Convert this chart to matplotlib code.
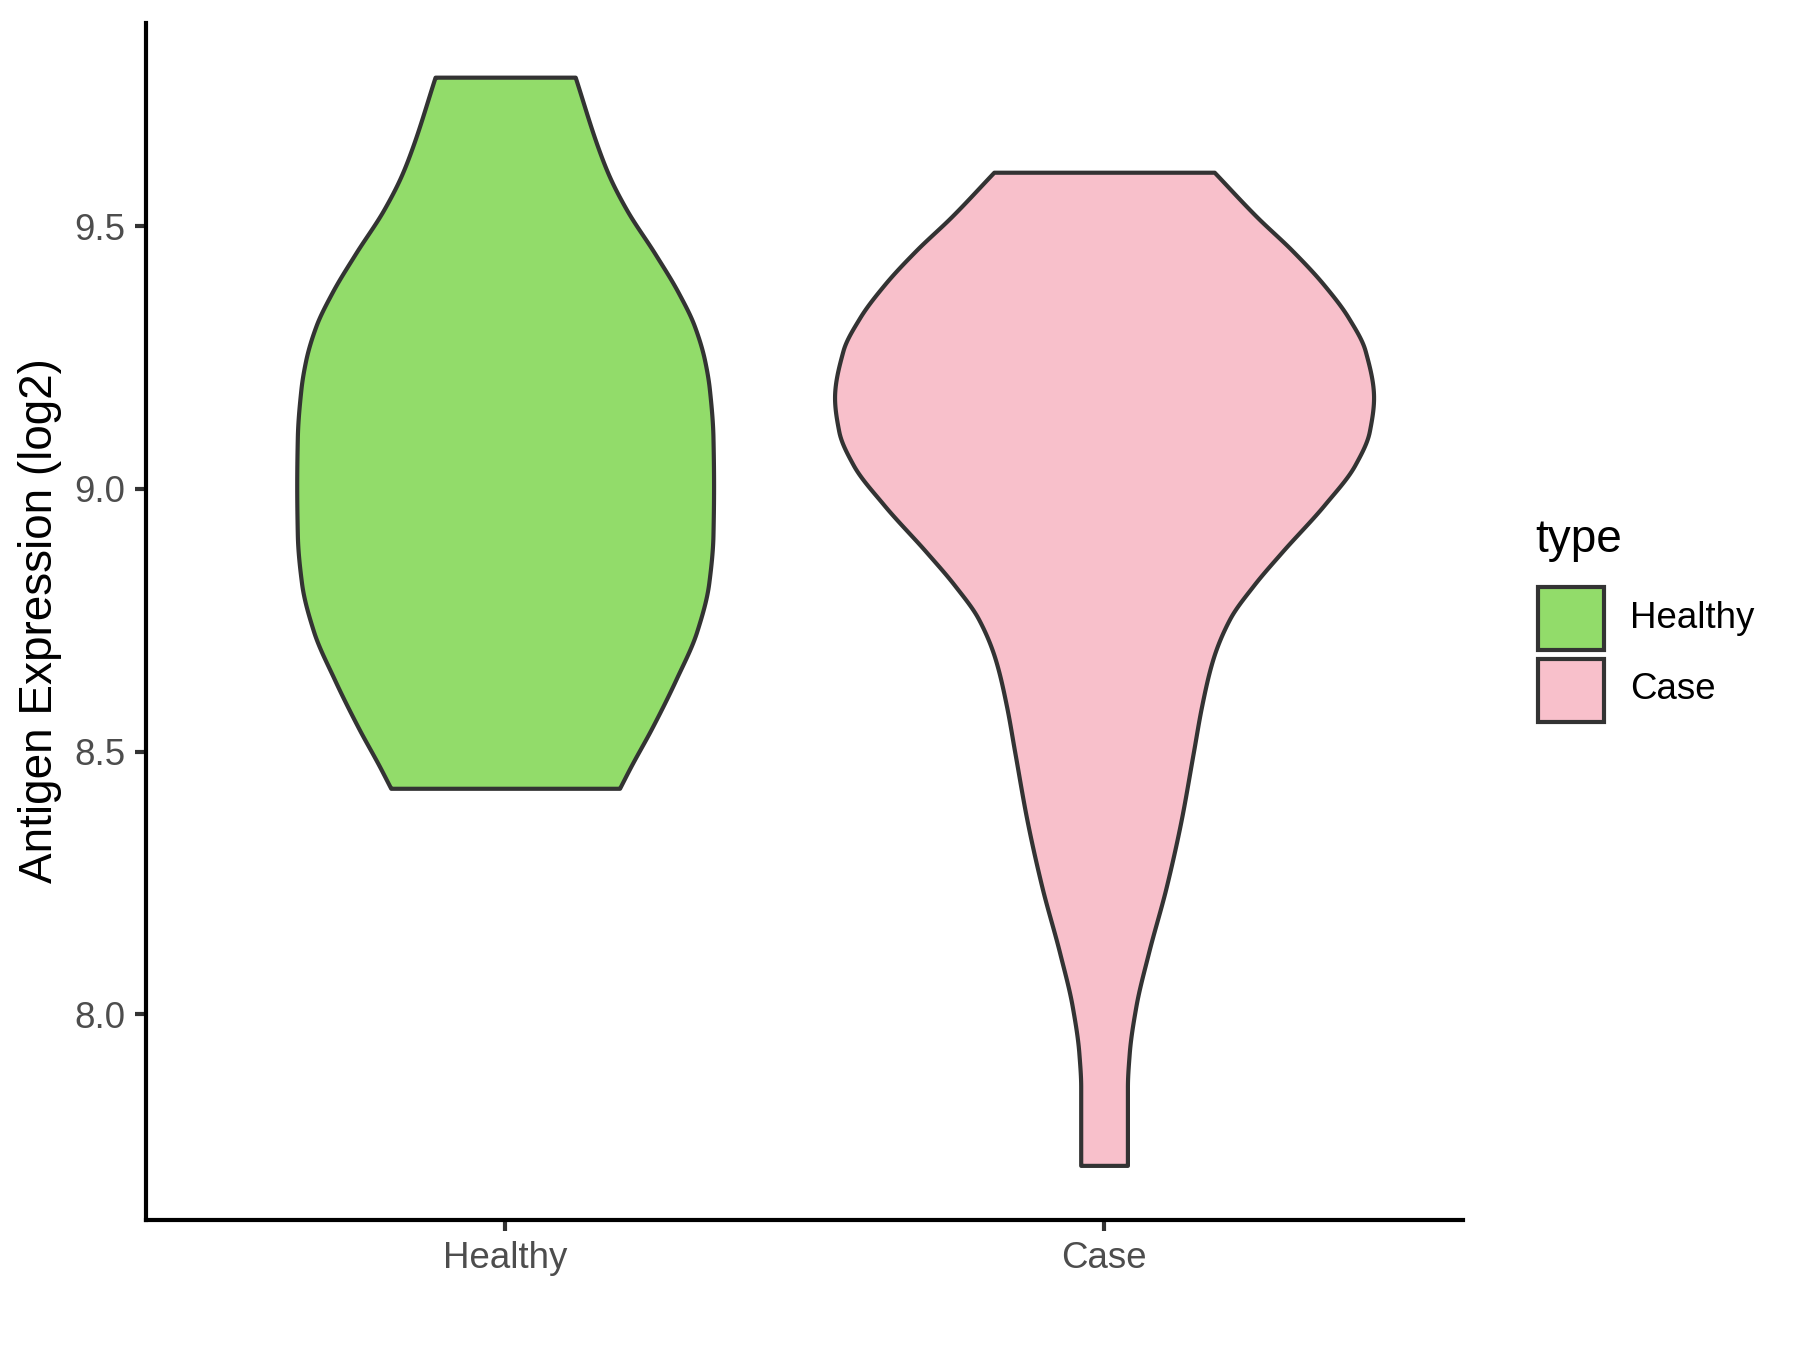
import numpy as np
import matplotlib
matplotlib.use('Agg')
import matplotlib.pyplot as plt
from matplotlib.patches import Rectangle

plt.rcParams['font.family'] = ['Liberation Sans', 'DejaVu Sans']

categories = ['Healthy', 'Case']
colors = ['#92DC6A', '#F8C0CB']

# violin outlines: y value and half width
healthy_y = [9.784, 9.650, 9.595, 9.531, 9.448, 9.374, 9.310, 9.245, 9.190, 9.098,
             9.006, 8.913, 8.821, 8.729, 8.637, 8.545, 8.472, 8.430]
healthy_half = [0.117, 0.155, 0.174, 0.203, 0.250, 0.289, 0.316, 0.333, 0.341, 0.347,
                0.348, 0.347, 0.340, 0.320, 0.285, 0.245, 0.210, 0.191]

case_y = [9.603, 9.518, 9.454, 9.390, 9.326, 9.263, 9.174, 9.110, 9.046, 8.970,
          8.880, 8.817, 8.753, 8.677, 8.587, 8.498, 8.371, 8.243, 8.116, 8.014,
          7.925, 7.861, 7.712]
case_half = [0.184, 0.255, 0.314, 0.366, 0.408, 0.436, 0.450, 0.443, 0.419, 0.368,
             0.297, 0.250, 0.210, 0.182, 0.163, 0.149, 0.129, 0.104, 0.074, 0.053,
             0.042, 0.039, 0.039]

y_ticks = [8.0, 8.5, 9.0, 9.5]


def smooth_outline(y, h, n=400):
    # monotone cubic through the read points, only to draw a smooth edge
    y = np.asarray(y)[::-1]
    h = np.asarray(h)[::-1]
    dy = np.diff(y)
    sl = np.diff(h) / dy
    d = np.zeros_like(h)
    for k in range(1, len(h) - 1):
        if sl[k - 1] * sl[k] > 0:
            w1 = 2 * dy[k] + dy[k - 1]
            w2 = dy[k] + 2 * dy[k - 1]
            d[k] = (w1 + w2) / (w1 / sl[k - 1] + w2 / sl[k])
    d[0] = sl[0]
    d[-1] = sl[-1]
    yy = np.linspace(y[0], y[-1], n)
    idx = np.clip(np.searchsorted(y, yy) - 1, 0, len(y) - 2)
    t = (yy - y[idx]) / dy[idx]
    t2, t3 = t * t, t * t * t
    hh = ((2 * t3 - 3 * t2 + 1) * h[idx] + (t3 - 2 * t2 + t) * dy[idx] * d[idx]
          + (-2 * t3 + 3 * t2) * h[idx + 1] + (t3 - t2) * dy[idx] * d[idx + 1])
    return yy, hh


fig = plt.figure(figsize=(6, 4.5), dpi=300)
ax = fig.add_axes([0.081, 0.0963, 0.732, 0.887])

outlines = [(healthy_y, healthy_half), (case_y, case_half)]
for i, (yv, hv) in enumerate(outlines):
    pos = i + 1
    yy, hh = smooth_outline(yv, hv)
    ax.fill_betweenx(yy, pos - hh, pos + hh, facecolor=colors[i],
                     edgecolor='#333333', linewidth=1.0, joinstyle='round')

ax.set_xlim(0.4, 2.6)
ax.set_ylim(7.608, 9.888)
ax.set_xticks([1, 2])
ax.set_xticklabels(categories)
ax.set_yticks(y_ticks)
ax.set_yticklabels([f'{v:.1f}' for v in y_ticks])

for s in ['top', 'right']:
    ax.spines[s].set_visible(False)
for s in ['left', 'bottom']:
    ax.spines[s].set_linewidth(1.0)
    ax.spines[s].set_color('black')
ax.tick_params(length=2.75, width=1.0, color='#333333', labelsize=8.8,
               labelcolor='#4D4D4D', pad=2.2)

fig.text(40 / 1800, 0.54, 'Antigen Expression (log2)', rotation=90,
         fontsize=11, ha='center', va='center')

# legend
fig.text(0.853, 0.6, 'type', fontsize=11, ha='left', va='center')
fig.patches.append(Rectangle((0.8544, 0.5185), 0.0367, 0.0467, transform=fig.transFigure,
                             facecolor=colors[0], edgecolor='#333333', linewidth=1.0))
fig.patches.append(Rectangle((0.8544, 0.4652), 0.0367, 0.0467, transform=fig.transFigure,
                             facecolor=colors[1], edgecolor='#333333', linewidth=1.0))
fig.text(0.9056, 0.542, 'Healthy', fontsize=8.8, ha='left', va='center')
fig.text(0.9056, 0.489, 'Case', fontsize=8.8, ha='left', va='center')

fig.savefig('out.png', dpi=300)
